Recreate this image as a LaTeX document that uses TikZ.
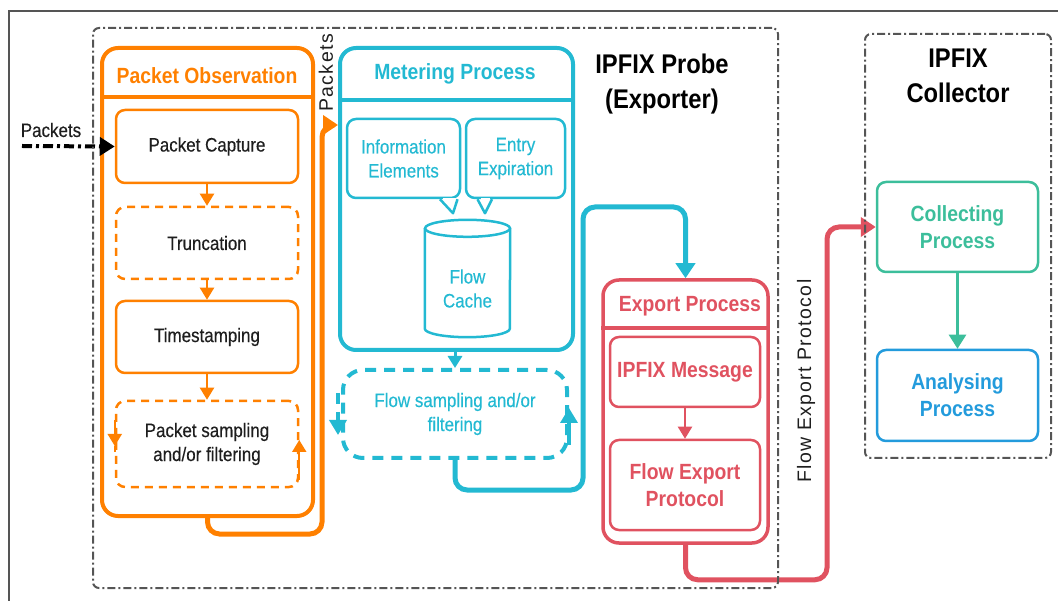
\documentclass[tikz,border=0pt]{standalone}
\usepackage{fontspec}
\setmainfont{Liberation Sans}[FakeStretch=0.88]
\newfontfamily\regfont{Liberation Sans}[FakeStretch=0.87, FakeBold=0.35]
\newfontfamily\rotfont{Liberation Sans}[LetterSpace=7]
\usetikzlibrary{arrows.meta}
\definecolor{cOr}{RGB}{255,128,0}
\definecolor{cCy}{RGB}{35,185,210}
\definecolor{cRd}{RGB}{224,82,96}
\definecolor{cGr}{RGB}{60,190,155}
\definecolor{cBl}{RGB}{35,155,220}
\definecolor{cGy}{RGB}{85,85,85}
\definecolor{cTx}{RGB}{30,30,30}
\begin{document}
\begin{tikzpicture}[x=1pt,y=-1pt,
  bigbox/.style={line width=4pt, rounded corners=16pt, inner sep=0pt},
  smallbox/.style={line width=2.5pt, rounded corners=9pt, inner sep=0pt, align=center},
  regtext/.style={font=\fontsize{19.5}{24}\regfont},
  boldtext/.style={font=\fontsize{22}{27}\selectfont\bfseries},
  titletext/.style={font=\fontsize{27}{35}\selectfont\bfseries, align=center},
  rottext/.style={font=\fontsize{19.5}{24}\rotfont, rotate=90, text=cTx},
  smalltip/.style={-{Triangle[length=12pt,width=14pt]}},
  midtip/.style={-{Triangle[length=15pt,width=17pt]}},
  conn/.style={line width=5pt, rounded corners=12pt, -{Triangle[length=15pt,width=19pt]}},
  probe/.style={draw=cGy, line width=2pt, dash pattern=on 8pt off 3pt on 2pt off 3pt, rounded corners=6pt, inner sep=0pt},
  dashedbox/.style={dash pattern=on 8pt off 6pt}
]
\useasboundingbox (0,0) rectangle (1058,601);
% frame
\draw[cGy, line width=2pt] (9,601) -- (9,11) -- (1058,11);

% ---------- Packet Observation ----------
\node[draw=cOr, bigbox, minimum width=211pt, minimum height=468pt] (po) at (207.5,282) {};
\coordinate (h1) at (0,97);
\draw[cOr, line width=4pt] (po.west |- h1) -- (po.east |- h1);
\node[boldtext, text=cOr] (pot) at (207,76) {Packet Observation};

\node[draw=cOr, smallbox, minimum width=182pt, minimum height=73pt, regtext, text=cTx] (pc) at (207,146.5) {Packet Capture};
\node[draw=cOr, smallbox, dashedbox, minimum width=182pt, minimum height=72pt, regtext, text=cTx] (tr) at (207,243) {Truncation};
\node[draw=cOr, smallbox, minimum width=182pt, minimum height=72pt, regtext, text=cTx] (ts) at (207,337) {Timestamping};
\node[draw=cOr, smallbox, dashedbox, minimum width=182pt, minimum height=86pt, regtext, text=cTx] (ps) at (207,444) {Packet sampling\\and/or filtering};

\draw[cOr, line width=2pt, smalltip] (pc) -- (tr);
\draw[cOr, line width=2pt, smalltip] (tr) -- (ts);
\draw[cOr, line width=2pt, smalltip] (ts) -- (ps);
\draw[cOr, line width=2pt, smalltip] ([yshift=24pt]ps.west) -- ([yshift=-2pt]ps.west);
\draw[cOr, line width=2pt] ([yshift=-2pt]ps.west) -- ([yshift=-8pt]ps.west);
\draw[cOr, line width=2pt, smalltip] ([yshift=-36pt]ps.east) -- ([yshift=4pt]ps.east);

% ---------- Metering Process ----------
\node[draw=cCy, bigbox, minimum width=233pt, minimum height=302pt] (mp) at (456.5,199) {};
\coordinate (h2) at (0,100);
\draw[cCy, line width=4pt] (mp.west |- h2) -- (mp.east |- h2);
\node[boldtext, text=cCy] (mpt) at (455,74) {Metering Process};

\node[draw=cCy, smallbox, minimum width=113pt, minimum height=79pt, regtext, text=cCy] (ie) at (403.5,158.5) {Information\\Elements};
\node[draw=cCy, smallbox, minimum width=99pt, minimum height=79pt, regtext, text=cCy] (ee) at (515.5,158.5) {Entry\\Expiration};
% callout pointers
\draw[white, line width=3pt] ([xshift=39pt]ie.south) -- ([xshift=52pt]ie.south);
\draw[cCy, line width=2.5pt, line join=round] ([xshift=36.5pt]ie.south) -- ([xshift=49.5pt,yshift=-14pt]ie.south) -- ([xshift=54pt]ie.south);
\draw[white, line width=3pt] ([xshift=-35pt]ee.south) -- ([xshift=-26pt]ee.south);
\draw[cCy, line width=2.5pt, line join=round] ([xshift=-38pt]ee.south) -- ([xshift=-30.5pt,yshift=-14pt]ee.south) -- ([xshift=-23.5pt]ee.south);

% Flow cache cylinder
\node[minimum width=85pt, minimum height=117pt, inner sep=0pt] (fc) at (467.5,278.5) {};
\draw[cCy, line width=2.5pt] ([yshift=-8.5pt]fc.north) ellipse [x radius=42.5pt, y radius=8.5pt];
\draw[cCy, line width=2.5pt] ([yshift=-8.5pt]fc.north west) -- ([yshift=8.5pt]fc.south west)
  arc [start angle=180, end angle=360, x radius=42.5pt, y radius=8.5pt] -- ([yshift=-8.5pt]fc.north east);
\node[regtext, text=cCy, align=center] (fct) at ([yshift=-10pt]fc.center) {Flow\\Cache};

% Flow sampling
\node[draw=cCy, line width=4pt, dash pattern=on 11pt off 8pt, rounded corners=20pt, minimum width=224pt, minimum height=88pt, inner sep=0pt, regtext, text=cCy, align=center] (fs) at (455,414) {Flow sampling and/or\\filtering};
\draw[cCy, line width=3pt, smalltip] (mp.south -| fs.north) -- (fs.north);
\draw[cCy, line width=3.5pt, dash pattern=on 11pt off 8pt, midtip] ([xshift=-3pt,yshift=21pt]fs.west) -- ([xshift=-3pt,yshift=-21pt]fs.west);
\draw[cCy, line width=3.5pt, midtip] ([yshift=-31pt]fs.east) -- ([yshift=6pt]fs.east);

% ---------- Export Process ----------
\node[draw=cRd, bigbox, line width=3.5pt, minimum width=165pt, minimum height=263pt] (ep) at (685.5,411.5) {};
\coordinate (h3) at (0,328);
\draw[cRd, line width=3.5pt] (ep.west |- h3) -- (ep.east |- h3);
\node[boldtext, text=cRd] (ept) at (690,306) {Export Process};
\node[draw=cRd, smallbox, minimum width=150pt, minimum height=70pt, boldtext, text=cRd] (im) at (685,372) {IPFIX Message};
\node[draw=cRd, smallbox, minimum width=150pt, minimum height=90pt, boldtext, text=cRd] (fe) at (685,485) {Flow Export\\Protocol};
\draw[cRd, line width=2pt, smalltip] (im) -- (fe);

% ---------- Collector ----------
\node[draw=cGr, smallbox, minimum width=161pt, minimum height=90pt, boldtext, text=cGr] (cp) at (957.5,227) {Collecting\\Process};
\node[draw=cBl, smallbox, minimum width=161pt, minimum height=91pt, boldtext, text=cBl] (ap) at (957.5,395.5) {Analysing\\Process};
\draw[cGr, line width=2.5pt, -{Triangle[length=14pt,width=17pt]}] (cp) -- (ap);

% ---------- connectors ----------
\coordinate (o1) at (322,125);
\draw[cOr, conn] (po.south) -- ++(0,16) -| (o1) -- (mp.west |- o1);
\node[rottext] (pkv) at (326,73) {Packets};

\coordinate (c1) at (583,207);
\draw[cCy, conn] (fs.south) -- ++(0,30) -| (c1) -| (ep.north);

\coordinate (r1) at (827,227);
\draw[cRd, conn] (ep.south) -- ++(0,35) -| (r1) -- (cp.west);
\node[rottext] (fep) at (806,381) {Flow Export Protocol};

% input
\coordinate (in) at (22,146);
\draw[black, line width=4pt, dash pattern=on 10pt off 4pt on 3pt off 4pt, -{Triangle[length=15pt,width=18pt]}] (in) -- (pc.west);
\node[regtext, text=cTx] (pkl) at (51,130) {Packets};

% ---------- dash-dot groups ----------
\node[probe, minimum width=685pt, minimum height=560pt] (probe) at (435.5,308) {};
\node[probe, minimum width=186pt, minimum height=424pt] (coll) at (958,246) {};
\node[titletext, text=black] (prt) at (662,84) {IPFIX Probe\\(Exporter)};
\node[titletext, text=black] (clt) at (958,76) {IPFIX\\Collector};
\end{tikzpicture}
\end{document}
